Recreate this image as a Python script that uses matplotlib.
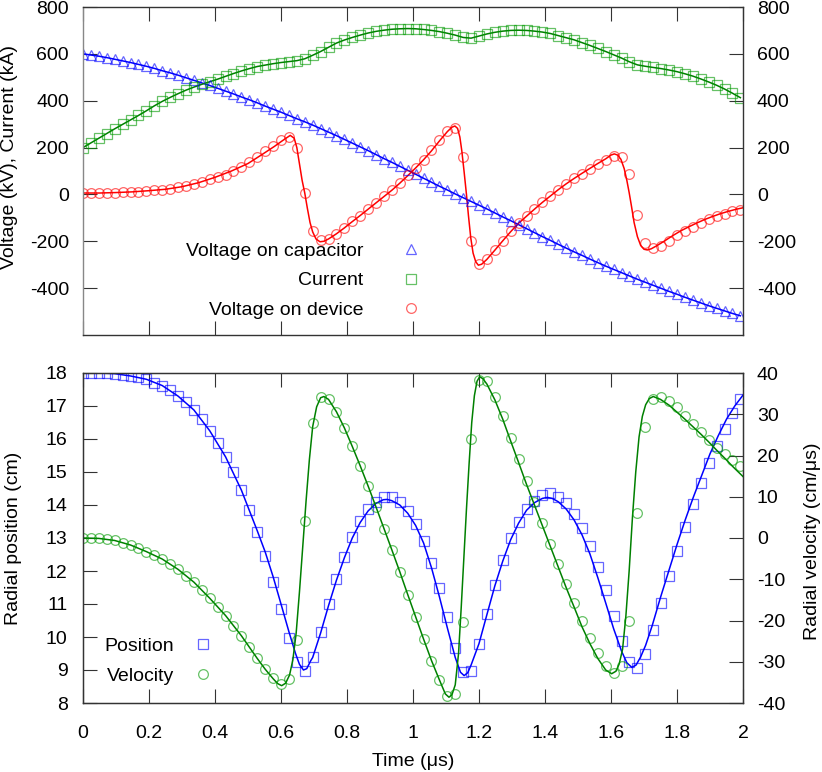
import matplotlib.pyplot as plt
import numpy as np

plt.rcParams['font.family'] = ['Liberation Sans', 'DejaVu Sans']
plt.rcParams['font.size'] = 14
plt.rcParams['axes.unicode_minus'] = False

## sample times of the marker data (us), one point every 24 ns
t_pts = np.arange(84) * 0.024

## ---- top panel: markers ----
v_cap = [600, 595, 590, 584, 577, 570, 563, 555, 547, 538, 528, 519, 509, 498,
         487, 476, 465, 453, 441, 429, 416, 404, 391, 377, 364, 351, 337, 323,
         310, 296, 281, 266, 251, 235, 219, 203, 187, 170, 153, 137, 120, 103,
         86, 69, 52, 35, 19, 2, -14, -30, -46, -62, -79, -96, -112, -129, -146,
         -163, -180, -196, -213, -229, -245, -260, -276, -291, -306, -320, -334,
         -348, -362, -375, -388, -401, -414, -426, -439, -451, -463, -475, -486,
         -497, -508, -518]
current = [200, 220, 240, 260, 280, 299, 318, 337, 357, 378, 397, 414, 430, 445,
           458, 470, 481, 492, 504, 516, 527, 537, 546, 552, 558, 563, 567, 571,
           579, 594, 610, 628, 646, 659, 670, 680, 689, 696, 701, 705, 707, 708,
           707, 704, 700, 695, 688, 680, 670, 667, 676, 685, 692, 697, 700, 701,
           700, 697, 693, 687, 678, 669, 660, 648, 636, 623, 610, 596, 582, 566,
           553, 547, 542, 537, 531, 524, 515, 505, 493, 480, 466, 450, 432, 413]
v_dev = [6, 6, 6, 7, 7, 9, 10, 12, 14, 17, 20, 24, 30, 37, 45, 54, 64, 74, 85,
         100, 117, 138, 160, 184, 208, 231, 243, 198, 6, -154, -194, -190, -168,
         -144, -115, -90, -64, -35, -8, 17, 49, 82, 113, 149, 189, 232, 272, 284,
         158, -197, -299, -275, -236, -197, -158, -122, -94, -62, -33, -7, 20, 46,
         68, 89, 110, 132, 149, 165, 160, 86, -87, -208, -230, -218, -197, -175,
         -154, -140, -122, -107, -94, -82, -72, -65]

## ---- top panel: model line for the device voltage ----
dev_line_t = [0.0, 0.05, 0.1, 0.15, 0.2, 0.25, 0.3, 0.35, 0.4, 0.45, 0.5, 0.54,
              0.58, 0.61, 0.628, 0.64, 0.648, 0.656, 0.664, 0.672, 0.68, 0.688,
              0.696, 0.706, 0.718, 0.73, 0.744, 0.768, 0.792, 0.816, 0.84, 0.864,
              0.888, 0.912, 0.936, 0.96, 0.984, 1.008, 1.032, 1.056, 1.08, 1.104,
              1.118, 1.127, 1.135, 1.142, 1.148, 1.155, 1.162, 1.168, 1.175,
              1.182, 1.19, 1.198, 1.208, 1.224, 1.248, 1.272, 1.296, 1.32, 1.344,
              1.368, 1.392, 1.416, 1.44, 1.464, 1.488, 1.512, 1.536, 1.56, 1.584,
              1.6, 1.61, 1.62, 1.63, 1.64, 1.648, 1.655, 1.662, 1.67, 1.68, 1.69,
              1.7, 1.71, 1.722, 1.74, 1.764, 1.788, 1.812, 1.836, 1.86, 1.884,
              1.908, 1.932, 1.956, 1.98, 2.0]
dev_line_v = [6, 6, 8, 11, 16, 22, 33, 50, 73, 100, 132, 168, 205, 235, 252, 240,
              200, 130, 60, 6, -60, -120, -160, -190, -202, -200, -190, -168,
              -143, -116, -90, -63, -36, -9, 18, 48, 80, 113, 148, 186, 228, 268,
              287, 292, 282, 245, 185, 95, 0, -90, -185, -250, -287, -302, -298,
              -277, -238, -198, -159, -123, -93, -63, -34, -7, 20, 45, 68, 90,
              111, 132, 152, 168, 173, 168, 150, 110, 60, 8, -50, -120, -180,
              -218, -234, -237, -232, -218, -197, -175, -155, -138, -122, -107,
              -94, -82, -72, -63, -57]

## ---- bottom panel: markers ----
pos = [18.00, 18.00, 18.00, 17.99, 17.98, 17.94, 17.91, 17.87, 17.81, 17.71,
       17.62, 17.48, 17.30, 17.11, 16.88, 16.60, 16.25, 15.89, 15.46, 14.99,
       14.45, 13.85, 13.19, 12.45, 11.66, 10.84, 9.98, 9.25, 8.97, 9.40, 10.16,
       10.99, 11.76, 12.43, 13.03, 13.51, 13.87, 14.10, 14.24, 14.24, 14.10,
       13.82, 13.42, 12.91, 12.25, 11.48, 10.61, 9.68, 8.93, 8.97, 9.78, 10.69,
       11.58, 12.33, 12.99, 13.49, 13.89, 14.13, 14.31, 14.35, 14.25, 14.05,
       13.73, 13.29, 12.76, 12.13, 11.42, 10.65, 9.88, 9.25, 9.05, 9.48, 10.21,
       11.04, 11.85, 12.62, 13.34, 14.03, 14.68, 15.26, 15.80, 16.30, 16.78,
       17.20]
vel = [0.0, 0.0, -0.1, -0.3, -0.6, -1.1, -1.7, -2.5, -3.3, -4.1, -5.1, -6.3,
       -7.6, -9.1, -10.7, -12.6, -14.6, -16.7, -18.8, -21.3, -23.7, -26.4, -29.2,
       -31.8, -34.0, -35.4, -34.2, -24.7, 4.1, 28.0, 34.2, 33.6, 30.6, 26.7, 22.2,
       17.5, 12.6, 7.5, 2.3, -2.9, -8.2, -13.7, -19.1, -24.5, -29.7, -34.4,
       -38.3, -37.9, -20.3, 23.9, 38.3, 38.1, 34.3, 29.6, 24.3, 19.1, 13.8, 8.8,
       3.7, -1.5, -6.3, -11.2, -15.7, -20.1, -24.2, -27.9, -31.0, -32.8, -31.0,
       -20.1, 6.1, 26.8, 33.6, 34.3, 33.2, 31.7, 29.6, 27.6, 25.6, 23.7, 21.9,
       20.3, 18.8, 17.4]

## ---- bottom panel: model lines ----
pos_line_t = [0.0, 0.048, 0.096, 0.144, 0.192, 0.24, 0.288, 0.336, 0.384, 0.432,
              0.48, 0.528, 0.552, 0.576, 0.6, 0.624, 0.644, 0.656, 0.668, 0.678,
              0.69, 0.696, 0.72, 0.744, 0.768, 0.792, 0.816, 0.84, 0.864, 0.888,
              0.91, 0.922, 0.936, 0.96, 0.984, 1.008, 1.032, 1.056, 1.08, 1.104,
              1.128, 1.144, 1.155, 1.166, 1.176, 1.2, 1.224, 1.248, 1.272, 1.296,
              1.32, 1.344, 1.368, 1.392, 1.407, 1.422, 1.44, 1.464, 1.488, 1.512,
              1.536, 1.56, 1.584, 1.608, 1.632, 1.648, 1.663, 1.676, 1.69, 1.705,
              1.725, 1.75, 1.775, 1.8, 1.825, 1.85, 1.875, 1.9, 1.925, 1.95,
              1.975, 2.0]
pos_line = [18.00, 18.00, 17.98, 17.91, 17.81, 17.62, 17.30, 16.88, 16.25, 15.46,
            14.45, 13.22, 12.58, 11.83, 11.00, 10.16, 9.50, 9.17, 9.00, 9.04,
            9.28, 9.38, 10.12, 10.95, 11.72, 12.40, 13.00, 13.47, 13.82, 14.05,
            14.16, 14.17, 14.13, 14.00, 13.75, 13.38, 12.85, 12.10, 11.22, 10.28,
            9.38, 8.93, 8.83, 8.92, 9.15, 9.80, 10.68, 11.55, 12.30, 12.95, 13.45,
            13.84, 14.07, 14.20, 14.23, 14.20, 14.10, 13.88, 13.55, 13.10, 12.52,
            11.80, 11.03, 10.25, 9.57, 9.22, 9.08, 9.15, 9.40, 9.75, 10.35, 11.20,
            12.00, 12.80, 13.55, 14.25, 14.90, 15.55, 16.10, 16.60, 17.00, 17.33]
vel_line_t = [0.0, 0.048, 0.096, 0.144, 0.192, 0.24, 0.288, 0.336, 0.384, 0.432,
              0.48, 0.528, 0.552, 0.576, 0.59, 0.602, 0.614, 0.626, 0.636, 0.646,
              0.656, 0.666, 0.676, 0.686, 0.696, 0.708, 0.72, 0.73, 0.744, 0.768,
              0.792, 0.816, 0.84, 0.864, 0.888, 0.912, 0.936, 0.96, 0.984, 1.008,
              1.032, 1.056, 1.08, 1.098, 1.109, 1.118, 1.128, 1.138, 1.146, 1.154,
              1.162, 1.17, 1.178, 1.186, 1.194, 1.202, 1.212, 1.224, 1.248, 1.272,
              1.296, 1.32, 1.344, 1.368, 1.392, 1.416, 1.44, 1.464, 1.488, 1.512,
              1.536, 1.56, 1.584, 1.602, 1.615, 1.625, 1.635, 1.645, 1.655, 1.665,
              1.675, 1.685, 1.695, 1.705, 1.716, 1.728, 1.75, 1.776, 1.8, 1.824,
              1.848, 1.872, 1.896, 1.92, 1.944, 1.968, 2.0]
vel_line = [0.0, -0.1, -0.6, -1.7, -3.3, -5.1, -7.6, -10.7, -14.6, -18.8, -23.7,
            -29.2, -31.8, -34.1, -35.3, -35.8, -35.2, -33.2, -29.5, -23.0, -13.0,
            -2.0, 9.0, 19.0, 27.0, 31.8, 34.0, 34.3, 33.6, 30.6, 26.7, 22.2, 17.5,
            12.6, 7.5, 2.3, -2.9, -8.2, -13.7, -19.1, -24.5, -29.7, -34.4, -37.8,
            -38.6, -38.0, -35.6, -28.0, -17.0, -5.0, 7.0, 18.0, 28.0, 34.5, 38.0,
            39.1, 38.6, 37.3, 33.5, 28.8, 23.5, 18.3, 13.0, 8.0, 3.0, -2.0, -7.0,
            -12.0, -16.7, -21.5, -25.6, -29.2, -32.0, -32.9, -32.3, -30.5, -27.0,
            -19.0, -8.0, 5.0, 16.0, 24.5, 29.5, 32.3, 33.8, 34.3, 33.6, 32.2,
            30.5, 28.8, 27.0, 25.2, 23.3, 21.3, 19.4, 17.4, 14.9]

x_ticks = [0, 0.2, 0.4, 0.6, 0.8, 1.0, 1.2, 1.4, 1.6, 1.8, 2.0]
x_ticklabels = ['0', '0.2', '0.4', '0.6', '0.8', '1', '1.2', '1.4', '1.6', '1.8', '2']

BLUE = '#0000ff'
GREEN = '#008000'
RED = '#ff0000'
BLUE_M = (0.0, 0.0, 1.0, 0.6)
GREEN_M = (0.0, 0.6, 0.0, 0.6)
RED_M = (1.0, 0.0, 0.0, 0.6)

fig = plt.figure(figsize=(8.22, 7.72), dpi=100)
ax1 = fig.add_axes([83/822, 1-335/772, 660/822, 328/772])
ax2 = fig.add_axes([83/822, 1-703/772, 660/822, 330/772])

def style(ax):
    ax.tick_params(direction='in', length=10, width=0.8, top=True, pad=11,
                   colors='#333333', labelcolor='black')
    ax.tick_params(axis='x', pad=16)
    for s in ax.spines.values():
        s.set_color('#333333')
        s.set_linewidth(1.0)
    ax.set_xlim(0, 2)
    ax.set_xticks(x_ticks)

## ---- top ----
style(ax1)
ax1.tick_params(axis='y', right=True, labelright=True, labelleft=True)
ax1.tick_params(axis='y', which='major', pad=10)
ax1.spines['left'].set_color('#888888')
ax1.set_xticklabels([])
ax1.set_ylim(-600, 800)
ax1.set_yticks([-400, -200, 0, 200, 400, 600, 800])

ax1.plot(t_pts, v_cap, color=BLUE, lw=1.1)
ax1.plot(t_pts, current, color=GREEN, lw=1.1)
ax1.plot(dev_line_t, dev_line_v, color=RED, lw=1.1)
h1, = ax1.plot(t_pts, v_cap, '^', ms=7.5, mfc='none', mec=BLUE_M, mew=0.9,
               label='Voltage on capacitor')
h2, = ax1.plot(t_pts, current, 's', ms=6.5, mfc='none', mec=GREEN_M, mew=0.9,
               label='Current')
h3, = ax1.plot(t_pts, v_dev, 'o', ms=7, mfc='none', mec=RED_M, mew=0.9,
               label='Voltage on device')
ax1.set_ylabel('Voltage (kV), Current (kA)')
ax1.yaxis.set_label_coords(-0.099, 0.543)
ax1.legend(handles=[h1, h2, h3], loc='upper right', bbox_to_anchor=(0.527, 0.283),
           markerfirst=False, frameon=False, handlelength=2.0, handletextpad=1.45,
           labelspacing=0.62, borderpad=0, borderaxespad=0)

## ---- bottom ----
style(ax2)
ax2.tick_params(axis='y', right=False)
ax2.set_xticklabels(x_ticklabels)
ax2.set_ylim(8, 18)
ax2.set_yticks(range(8, 19))
ax2v = ax2.twinx()
ax2v.set_ylim(-40, 40)
ax2v.set_yticks(range(-40, 41, 10))
ax2v.tick_params(direction='in', length=10, width=0.8, pad=10, colors='#333333',
                 labelcolor='black')
for s in ax2v.spines.values():
    s.set_color('#333333')

ax2.plot(pos_line_t, pos_line, color=BLUE, lw=1.1)
ax2v.plot(vel_line_t, vel_line, color=GREEN, lw=1.1)
h4, = ax2.plot(t_pts, pos, 's', ms=6.5, mfc='none', mec=BLUE_M, mew=0.9,
               label='Position')
h5, = ax2v.plot(t_pts, vel, 'o', ms=7, mfc='none', mec=GREEN_M, mew=0.9,
                label='Velocity')
ax2.set_ylabel('Radial position (cm)')
ax2.yaxis.set_label_coords(-0.093, 0.5)
ax2v.set_ylabel('Radial velocity (cm/μs)')
ax2v.yaxis.set_label_coords(1.093, 0.49)
ax2.set_xlabel('Time (μs)')
ax2.xaxis.set_label_coords(0.5, -0.152)
ax2v.legend(handles=[h4, h5], loc='lower right', bbox_to_anchor=(0.196, 0.056),
            markerfirst=False, frameon=False, handlelength=1.0, handletextpad=0.95,
            labelspacing=0.62, borderpad=0, borderaxespad=0)

fig.savefig('out.png', dpi=100)
